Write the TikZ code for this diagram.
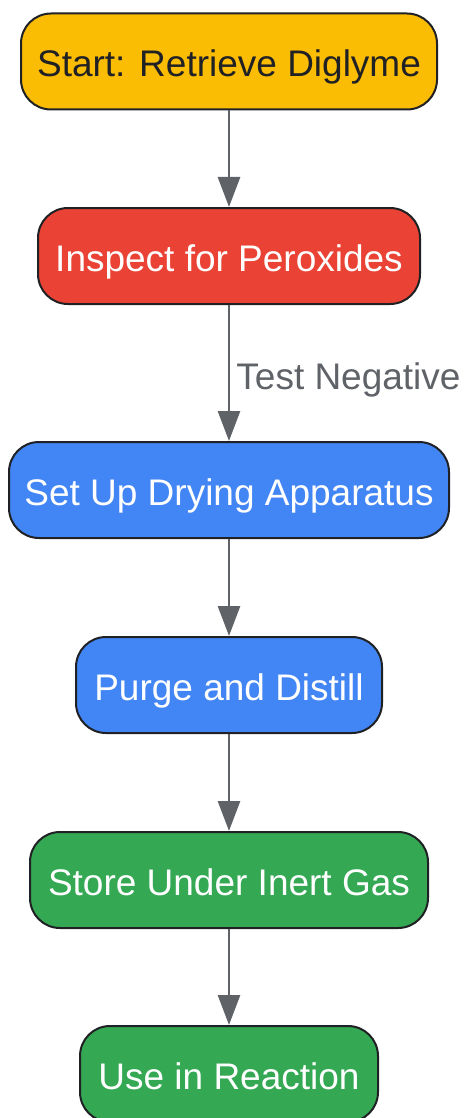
\documentclass[tikz,border=0pt]{standalone}
\usepackage{fontspec}
\setmainfont{Liberation Sans}
\usetikzlibrary{arrows.meta}
\definecolor{cyellow}{HTML}{FBBC04}
\definecolor{cred}{HTML}{EA4335}
\definecolor{cblue}{HTML}{4285F4}
\definecolor{cgreen}{HTML}{34A853}
\definecolor{cborder}{HTML}{202124}
\definecolor{cgray}{HTML}{5F6368}
\tikzset{
  stepbox/.style={draw=cborder, line width=2pt, rounded corners=30pt, minimum height=96pt,
    inner sep=0pt, font=\fontsize{37}{44}\selectfont, text height=31pt, text depth=0pt},
  flow/.style={draw=cgray, line width=2.8pt, -{Triangle[length=30pt,width=22pt]}, shorten >=0pt},
  lbl/.style={font=\fontsize{37}{44}\selectfont, text=cgray, inner sep=0pt}
}
\begin{document}
\begin{tikzpicture}[x=1pt,y=-1pt]
\useasboundingbox (0,0) rectangle (464,1118);
\node[stepbox, fill=cyellow, text=cborder, minimum width=416pt] (n1) at (229,61.5) {Start: Retrieve Diglyme};
\node[stepbox, fill=cred, text=white, minimum width=382pt] (n2) at (229,256) {Inspect for Peroxides};
\node[stepbox, fill=cblue, text=white, minimum width=440pt] (n3) at (229,490) {Set Up Drying Apparatus};
\node[stepbox, fill=cblue, text=white, minimum width=306pt] (n4) at (229,685) {Purge and Distill};
\node[stepbox, fill=cgreen, text=white, minimum width=398pt] (n5) at (229,880) {Store Under Inert Gas};
\node[stepbox, fill=cgreen, text=white, minimum width=298pt] (n6) at (229,1074) {Use in Reaction};
\draw[flow] (n1) -- (n2);
\draw[flow] (n2) -- node[lbl, anchor=west, xshift=6pt, yshift=-7pt] (t1) {Test Negative} (n3);
\draw[flow] (n3) -- (n4);
\draw[flow] (n4) -- (n5);
\draw[flow] (n5) -- (n6);
\end{tikzpicture}
\end{document}
